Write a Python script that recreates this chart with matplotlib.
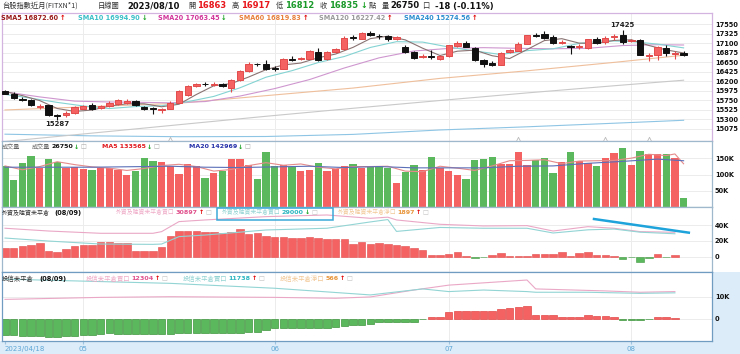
import matplotlib
matplotlib.use('Agg')
import matplotlib.pyplot as plt
from matplotlib.patches import Rectangle

W, H = 740, 354
FAM = ['DejaVu Sans', 'Noto Sans CJK TC']
CJK = ['Noto Sans CJK TC', 'DejaVu Sans']
plt.rcParams['font.family'] = FAM

# ---------------- data ----------------
dates_lbl = ['2023/04/18', '05', '06', '07', '08']
month_idx = [0, 9, 31, 51, 72]

open_ = [15970, 15907, 15788, 15764, 15590, 15630, 15400, 15392, 15447, 15550,
         15645, 15566, 15606, 15653, 15693, 15724, 15598, 15558, 15519, 15550,
         15693, 15867, 16081, 16144, 16121, 16136, 16041, 16223, 16437, 16620,
         16604, 16516, 16501, 16738, 16722, 16738, 16897, 16738, 16897, 16960,
         17245, 17214, 17348, 17285, 17269, 17214, 17023, 16897, 16786, 16810,
         16738, 16802, 17039, 17118, 16992, 16699, 16643, 16596, 16897, 16920,
         17095, 17301, 17324, 17245, 17118, 17031, 17007, 16992, 17198, 17134,
         17253, 17293, 17150, 17174, 16802, 16833, 16992, 16849, 16863]
high = [15986, 15946, 15820, 15788, 15661, 15645, 15423, 15487, 15606, 15645,
        15693, 15645, 15724, 15788, 15772, 15748, 15614, 15598, 15566, 15724,
        15986, 16105, 16168, 16184, 16184, 16168, 16247, 16461, 16659, 16643,
        16714, 16556, 16754, 16802, 16778, 16936, 16992, 16913, 16992, 17277,
        17293, 17372, 17388, 17324, 17293, 17277, 17055, 16920, 16841, 16936,
        16833, 17071, 17150, 17150, 17015, 16722, 16675, 16897, 16976, 17134,
        17308, 17356, 17396, 17293, 17182, 17055, 17087, 17214, 17245, 17277,
        17324, 17425, 17214, 17214, 16881, 17039, 17055, 16920, 16917]
low = [15891, 15772, 15724, 15614, 15550, 15368, 15287, 15352, 15431, 15534,
       15519, 15534, 15582, 15630, 15653, 15606, 15511, 15431, 15447, 15534,
       15677, 15851, 16065, 16089, 16089, 16057, 15946, 16208, 16422, 16564,
       16477, 16453, 16485, 16675, 16699, 16722, 16691, 16714, 16881, 16944,
       17182, 17198, 17277, 17198, 17150, 17182, 16881, 16738, 16762, 16738,
       16699, 16786, 17023, 17007, 16683, 16540, 16556, 16580, 16881, 16913,
       17079, 17245, 17214, 17095, 17095, 16857, 16976, 16976, 17079, 17095,
       17174, 17087, 17134, 16818, 16675, 16714, 16802, 16738, 16812]
close = [15907, 15804, 15756, 15630, 15614, 15392, 15384, 15455, 15582, 15622,
         15550, 15614, 15693, 15748, 15732, 15630, 15534, 15542, 15542, 15693,
         15970, 16089, 16144, 16128, 16144, 16089, 16223, 16437, 16619, 16604,
         16501, 16501, 16722, 16699, 16754, 16913, 16714, 16897, 16960, 17237,
         17229, 17356, 17293, 17269, 17214, 17253, 16897, 16762, 16810, 16786,
         16810, 17055, 17118, 17023, 16699, 16619, 16580, 16873, 16936, 17095,
         17293, 17277, 17237, 17118, 17142, 17007, 17031, 17198, 17118, 17229,
         17277, 17134, 17182, 16833, 16833, 17015, 16873, 16881, 16835]

sma5_idx = list(range(0, 80, 2))
sma5 = [15960, 15860, 15742, 15555, 15485, 15519, 15612, 15667, 15667, 15596,
        15656, 15888, 16095, 16146, 16302, 16477, 16589, 16635, 16760, 16848,
        17007, 17215, 17272, 17185, 16987, 16813, 16916, 16941, 16808, 16741,
        16955, 17168, 17213, 17107, 17099, 17171, 17188, 17052, 16947, 16873]
sma10_idx = list(range(0, 81, 3))
sma10 = [15890, 15800, 15700, 15615, 15554, 15601, 15621, 15717, 15842, 16046,
         16298, 16454, 16646, 16790, 17005, 17142, 17132, 17015, 16921, 16837,
         16929, 16973, 17101, 17165, 17144, 17085, 16995]
sma20_idx = [0, 4, 8, 12, 16, 19, 23, 27, 31, 35, 39, 43, 47, 51, 55, 59, 63, 67, 71, 75, 78]
sma20 = [15950, 15830, 15730, 15710, 15700, 15690, 15720, 15850, 16028, 16242,
         16517, 16758, 16920, 16982, 17000, 16984, 16973, 16985, 17050, 17070, 17063]
ma_long_idx = [0, 10, 20, 30, 40, 50, 60, 70, 78]
sma60 = [15520, 15600, 15680, 15860, 16040, 16270, 16450, 16650, 16820]
sma120 = [14770, 14970, 15170, 15370, 15560, 15745, 15925, 16095, 16227]
sma240 = [14945, 14905, 14885, 14890, 14940, 15045, 15120, 15205, 15275]
event_idx = [19, 59, 69, 74]

volume = [127000, 84000, 135000, 158000, 122000, 148000, 138000, 122000, 125000, 119000,
          114000, 120000, 120000, 113000, 99000, 112000, 150000, 143000, 138000, 127000,
          102000, 132000, 127000, 89000, 104000, 112000, 148000, 148000, 130000, 86000,
          171000, 127000, 131000, 125000, 110000, 114000, 135000, 112000, 119000, 127000,
          132000, 122000, 127000, 127000, 120000, 74000, 109000, 129000, 115000, 156000,
          120000, 112000, 98000, 88000, 146000, 148000, 156000, 134000, 132000, 171000,
          129000, 146000, 153000, 104000, 140000, 171000, 141000, 136000, 127000, 150000,
          166000, 182000, 129000, 174000, 163000, 165000, 163000, 153000, 26750]
vma5_idx = list(range(0, 78, 2)) + [77, 78]
vma5 = [127000, 115000, 125000, 140000, 131000, 124000, 120000, 113000, 119000, 128000,
        132000, 125000, 111000, 116000, 128000, 137000, 129000, 133000, 123000, 118000,
        125000, 125000, 126000, 111000, 109000, 126000, 120000, 113000, 127000, 143000,
        144000, 146000, 134000, 142000, 143000, 144000, 151000, 163000, 159000, 164000, 133565]
vma20_idx = [0, 10, 19, 23, 27, 31, 35, 39, 43, 47, 51, 55, 59, 63, 67, 71, 75, 78]
vma20 = [123000, 123000, 126000, 123000, 122000, 124000, 126000, 122000, 125000, 121000,
         121000, 121000, 126000, 127000, 135000, 141000, 148000, 142969]

foreign_net = [10500, 10500, 13900, 14800, 16900, 7200, 6400, 9700, 14000, 14800,
               14800, 19000, 18200, 17300, 17300, 7200, 7200, 7200, 12700, 26200,
               33000, 33000, 32500, 31700, 30800, 30000, 31700, 35000, 28700, 30000,
               26600, 25400, 25400, 24000, 24000, 24500, 23300, 22000, 22000, 22000,
               16000, 19000, 15600, 17800, 15600, 14800, 13500, 11400, 8500, 2200,
               2200, 3400, 5500, 500, -1200, -800, 2200, 4300, 500, 500,
               1300, 3000, 3000, 3400, 5500, 500, 4700, 5500, 2200, 2200,
               1300, -3300, -400, -6300, -1200, 3000, -800, 1897]
f_line_idx = [0, 5, 11, 17, 18, 20, 23, 30, 37, 42, 44, 45, 50, 55, 60, 63, 67, 70, 73, 77]
foreign_buy = [36000, 32500, 29600, 29600, 31700, 44400, 46500, 50700, 52800, 48600,
               50000, 46500, 41000, 38900, 39300, 32500, 38000, 36000, 31700, 30897]
foreign_sell = [23600, 19800, 16000, 15600, 16000, 25400, 27400, 33800, 36000, 44000,
                47000, 32000, 37000, 36000, 36000, 30000, 34000, 35000, 31000, 29000]
trend_x = [67.7, 78.6]
trend_y = [47700, 30400]

trust_net = [-7200, -7200, -7600, -7600, -7600, -7900, -7900, -7600, -7500, -7200,
             -7200, -6700, -6400, -6700, -6700, -6700, -6700, -6700, -6700, -6700,
             -6400, -6400, -6400, -6400, -6400, -6400, -6100, -6400, -5700, -5700,
             -4800, -4200, -4200, -4200, -4200, -4200, -3900, -3900, -3400, -3100,
             -2700, -2700, -2400, -1500, -1500, -1500, -1500, -1200, -200, 700,
             700, 3000, 3700, 3600, 3600, 3600, 3700, 4300, 5100, 5500,
             6000, 1800, 1800, 1800, 1000, 1000, 1000, 1800, 1500, 1500,
             1000, -300, -300, -300, -200, 900, 900, 566]
t_buy_idx = [0, 11, 19, 31, 38, 42, 47, 51, 60, 61, 69, 73, 77]
trust_buy = [8800, 9700, 10000, 9700, 9300, 9900, 13000, 15200, 17500, 13500, 12600, 12000, 12304]
t_sell_idx = [0, 19, 31, 42, 48, 51, 55, 60, 61, 67, 73, 77]
trust_sell = [17900, 16000, 13800, 10800, 13500, 12300, 13000, 12300, 12000, 12000, 11500, 11738]

price_ticks = [15075, 15300, 15525, 15750, 15975, 16200, 16425, 16650, 16875, 17100, 17325, 17550]
vol_ticks = [50000, 100000, 150000]
vol_tick_lbl = ['50K', '100K', '150K']
f_ticks = [0, 20000, 40000]
f_tick_lbl = ['0', '20K', '40K']
t_ticks = [0, 10000]
t_tick_lbl = ['0', '10K']

# ---------------- style ----------------
RED = '#f46262'
REDE = '#e24a4a'
GRN = '#5cb85c'
GRNE = '#3f963f'
BLK = '#111111'
GRID = '#ececec'
UPC = '#e00000'
DNC = '#17a020'

fig = plt.figure(figsize=(W / 100, H / 100), dpi=100)
fig.patch.set_facecolor('white')
R = fig.canvas.get_renderer()


def rect(x0, y0, x1, y1):
    return [x0 / W, 1 - y1 / H, (x1 - x0) / W, (y1 - y0) / H]


def ftxt(x, y, s, color='#222222', size=5.0, weight='normal', family=FAM, ha='left'):
    return fig.text(x / W, 1 - y / H, s, color=color, fontsize=size, fontweight=weight,
                    family=family, ha=ha, va='center')


def flow(x, y, pieces, gap=1.0):
    for s, c, sz, wt, fam in pieces:
        t = ftxt(x, y, s, c, sz, wt, fam)
        x += t.get_window_extent(renderer=R).width + gap
    return x


# background strips
bg = fig.add_axes([0, 0, 1, 1], zorder=-5)
bg.set_xlim(0, W)
bg.set_ylim(H, 0)
bg.axis('off')
bg.add_patch(Rectangle((0, 341), W, 13, color='#dcecf8', lw=0))
bg.add_patch(Rectangle((712, 272), 28, 70, color='#dcecf8', lw=0))

X0, X1 = 2, 712
ax1 = fig.add_axes(rect(X0, 13, X1, 141))
ax2 = fig.add_axes(rect(X0, 141, X1, 207))
ax3 = fig.add_axes(rect(X0, 207, X1, 272))
ax4 = fig.add_axes(rect(X0, 272, X1, 341))

n = len(close)
idx = list(range(n))
xl = (-(5 - X0) / 8.7, (X1 - 5) / 8.7)

for ax, col in [(ax1, '#d3b3df'), (ax2, '#9fb8cc'), (ax3, '#9fb8cc'), (ax4, '#6f9cc0')]:
    ax.set_xlim(*xl)
    ax.set_facecolor('white')
    for s in ax.spines.values():
        s.set_color(col)
        s.set_linewidth(0.9)
    ax.tick_params(axis='x', length=0, labelbottom=False)
    ax.yaxis.tick_right()
    ax.tick_params(axis='y', length=0, pad=2, labelsize=4.8)
    for m in month_idx[1:]:
        ax.axvline(m, color=GRID, lw=0.7, zorder=0)
    ax.grid(axis='y', color=GRID, lw=0.7, zorder=0)
    ax.set_axisbelow(True)

# ---- panel 1: candles ----
ax1.set_ylim(14783, 17823)
ax1.set_yticks(price_ticks)
ax1.set_yticklabels([str(t) for t in price_ticks])
ax1.plot(ma_long_idx, sma240, color='#8ec5e4', lw=0.8, zorder=1)
ax1.plot(ma_long_idx, sma120, color='#c9c9c9', lw=0.8, zorder=1)
ax1.plot(ma_long_idx, sma60, color='#efbf9c', lw=0.8, zorder=1)
ax1.plot(sma20_idx, sma20, color='#cf97cf', lw=0.8, zorder=1)
ax1.plot(sma10_idx, sma10, color='#84d3d3', lw=0.8, zorder=1)
ax1.plot(sma5_idx, sma5, color='#8a7272', lw=0.8, zorder=1)
up = [c >= o for o, c in zip(open_, close)]
ax1.vlines(idx, low, high, colors=[REDE if u else BLK for u in up], lw=0.8, zorder=2)
ax1.bar(idx, [c - o for o, c in zip(open_, close)], bottom=open_, width=0.72,
        color=[RED if u else BLK for u in up], edgecolor=[REDE if u else BLK for u in up],
        lw=0.7, zorder=3)
ax1.scatter(event_idx, [14830] * len(event_idx), marker='^', s=10, facecolors='white',
            edgecolors='#bbbbbb', lw=0.6, zorder=4, clip_on=False)
i_hi = high.index(max(high))
i_lo = low.index(min(low))
ax1.annotate(str(max(high)), (i_hi, max(high)), xytext=(0, 1.2), textcoords='offset points',
             ha='center', va='bottom', fontsize=5.0, fontweight='bold', color='#222222')
ax1.annotate(str(min(low)), (i_lo, min(low)), xytext=(0, -1.0), textcoords='offset points',
             ha='center', va='top', fontsize=5.0, fontweight='bold', color='#222222')

# ---- panel 2: volume ----
ax2.set_ylim(0, 204000)
ax2.set_yticks(vol_ticks)
ax2.set_yticklabels(vol_tick_lbl)
ax2.bar(idx, volume, width=0.84, color=[RED if u else GRN for u in up], lw=0, zorder=2)
ax2.plot(vma5_idx, vma5, color='#e68a8a', lw=0.8, zorder=3)
ax2.plot(vma20_idx, vma20, color='#5b6fb8', lw=0.8, zorder=3)

# ---- panel 3: foreign ----
ax3.set_ylim(-19400, 62900)
ax3.set_yticks(f_ticks)
ax3.set_yticklabels(f_tick_lbl)
fidx = list(range(len(foreign_net)))
ax3.bar(fidx, foreign_net, width=0.86, color=[RED if v >= 0 else GRN for v in foreign_net],
        edgecolor=[REDE if v >= 0 else GRNE for v in foreign_net], lw=0.4, zorder=2)
ax3.plot(f_line_idx, foreign_buy, color='#eaa8c6', lw=0.8, zorder=3)
ax3.plot(f_line_idx, foreign_sell, color='#93d4d4', lw=0.8, zorder=3)
ax3.plot(trend_x, trend_y, color='#1ea3da', lw=1.8, zorder=4, clip_on=False)

# ---- panel 4: investment trust ----
ax4.set_ylim(-9900, 21100)
ax4.set_yticks(t_ticks)
ax4.set_yticklabels(t_tick_lbl)
tidx = list(range(len(trust_net)))
ax4.bar(tidx, trust_net, width=0.86, color=[RED if v >= 0 else GRN for v in trust_net],
        edgecolor=[REDE if v >= 0 else GRNE for v in trust_net], lw=0.5, zorder=2)
ax4.plot(t_buy_idx, trust_buy, color='#eaa8c6', lw=0.8, zorder=3)
ax4.plot(t_sell_idx, trust_sell, color='#93d4d4', lw=0.8, zorder=3)
ax4.set_xticks(month_idx)
ax4.set_xticklabels(dates_lbl)
ax4.tick_params(axis='x', length=2, color='#9fc4e0', labelbottom=True, labelsize=5,
                labelcolor='#5fa6d6', pad=1.5)
ax4.get_xticklabels()[0].set_ha('left')

for ax in (ax1, ax2, ax3, ax4):
    for lbl in ax.get_yticklabels():
        lbl.set_fontweight('bold')
        lbl.set_color('#111111')

# ---------------- header texts ----------------
TY = 6
GR = '#333333'
ftxt(2, TY, '台股指數近月(FITXN*1)', GR, 5.2, family=CJK)
ftxt(98, TY, '日線圖', GR, 5.2, family=CJK)
ftxt(127, TY, '2023/08/10', '#111111', 6.0, 'bold')
flow(188, TY, [('開', GR, 5.2, 'normal', CJK), ('16863', '#e8161b', 6.0, 'bold', FAM)], gap=2)
flow(232, TY, [('高', GR, 5.2, 'normal', CJK), ('16917', '#e8161b', 6.0, 'bold', FAM)], gap=2)
flow(276, TY, [('低', GR, 5.2, 'normal', CJK), ('16812', '#1a9a2a', 6.0, 'bold', FAM)], gap=2)
xe = flow(320, TY, [('收', GR, 5.2, 'normal', CJK), ('16835', '#1a9a2a', 6.0, 'bold', FAM),
                    ('↓', DNC, 5.8, 'bold', FAM), ('點', GR, 5.2, 'normal', CJK)], gap=2)
xe = flow(xe + 3, TY, [('量', GR, 5.2, 'normal', CJK), ('26750', '#111111', 6.0, 'bold', FAM),
                       ('口', GR, 5.2, 'normal', CJK)], gap=2)
ftxt(xe + 4, TY, '-18 (-0.11%)', '#111111', 6.0, 'bold')

# panel 1 legend
LY = 17.5
for x, s, c, ac in [(1, 'SMA5 16872.60', '#9b1c1c', '↑'),
                    (78, 'SMA10 16994.90', '#3cc0c8', '↓'),
                    (158, 'SMA20 17063.45', '#d2369b', '↓'),
                    (239, 'SMA60 16819.83', '#e8803c', '↑'),
                    (319, 'SMA120 16227.42', '#9a9a9a', '↑'),
                    (404, 'SMA240 15274.56', '#2e8fd0', '↑')]:
    flow(x, LY, [(s, c, 4.7, 'bold', FAM),
                 (ac, UPC if ac == '↑' else DNC, 4.8, 'bold', FAM)], gap=1.5)

# panel 2 legend
LY = 147
BOXC = '#aaaaaa'
ftxt(2, LY, '成交量', '#666666', 4.4, family=CJK)
flow(32, LY, [('成交量', '#666666', 4.4, 'normal', CJK), ('26750', '#111111', 4.5, 'bold', FAM),
              ('↓', DNC, 4.6, 'bold', FAM), ('□', BOXC, 4.4, 'normal', FAM)])
flow(102, LY, [('MA5 133565', '#e0161b', 4.5, 'bold', FAM),
               ('↓', DNC, 4.6, 'bold', FAM), ('□', BOXC, 4.4, 'normal', FAM)])
flow(189, LY, [('MA20 142969', '#2430a8', 4.5, 'bold', FAM),
               ('↓', DNC, 4.6, 'bold', FAM), ('□', BOXC, 4.4, 'normal', FAM)])

# panel 3 legend
LY = 212.5
BOXC = '#c0c0c0'
flow(2, LY, [('外資及陸資未平倉', '#333333', 4.3, 'normal', CJK),
             ('(08/09)', '#111111', 4.8, 'bold', FAM)], gap=4)
flow(116, LY, [('外資及陸資未平倉買口', '#eeaac6', 4.2, 'normal', CJK),
               ('30897', '#e0508c', 4.6, 'bold', FAM),
               ('↑', UPC, 4.6, 'bold', FAM), ('□', BOXC, 4.4, 'normal', FAM)])
flow(222, LY, [('外資及陸資未平倉賣口', '#93d3d3', 4.2, 'normal', CJK),
               ('29000', '#2cb5c0', 4.6, 'bold', FAM),
               ('↓', DNC, 4.6, 'bold', FAM), ('□', BOXC, 4.4, 'normal', FAM)])
flow(338, LY, [('外資及陸資未平倉淨口', '#f2c896', 4.2, 'normal', CJK),
               ('1897', '#e8963c', 4.6, 'bold', FAM),
               ('↑', UPC, 4.6, 'bold', FAM), ('□', BOXC, 4.4, 'normal', FAM)])
ov = fig.add_axes([0, 0, 1, 1], zorder=10)
ov.set_xlim(0, W)
ov.set_ylim(H, 0)
ov.axis('off')
ov.add_patch(Rectangle((217, 207.5), 116, 12, fill=False, edgecolor='#3aa9d8', lw=1.1))

# panel 4 legend
LY = 279
flow(2, LY, [('投信未平倉', '#333333', 4.6, 'normal', CJK),
             ('(08/09)', '#111111', 4.8, 'bold', FAM)], gap=5)
flow(86, LY, [('投信未平倉買口', '#eeaac6', 4.6, 'normal', CJK),
              ('12304', '#e0508c', 4.6, 'bold', FAM),
              ('↑', UPC, 4.6, 'bold', FAM), ('□', BOXC, 4.4, 'normal', FAM)])
flow(183, LY, [('投信未平倉賣口', '#93d3d3', 4.6, 'normal', CJK),
               ('11738', '#2cb5c0', 4.6, 'bold', FAM),
               ('↑', UPC, 4.6, 'bold', FAM), ('□', BOXC, 4.4, 'normal', FAM)])
flow(280, LY, [('投信未平倉淨口', '#f2c896', 4.6, 'normal', CJK),
               ('566', '#e8963c', 4.6, 'bold', FAM),
               ('↑', UPC, 4.6, 'bold', FAM), ('□', BOXC, 4.4, 'normal', FAM)])

fig.savefig('out.png', dpi=100, facecolor='white')
